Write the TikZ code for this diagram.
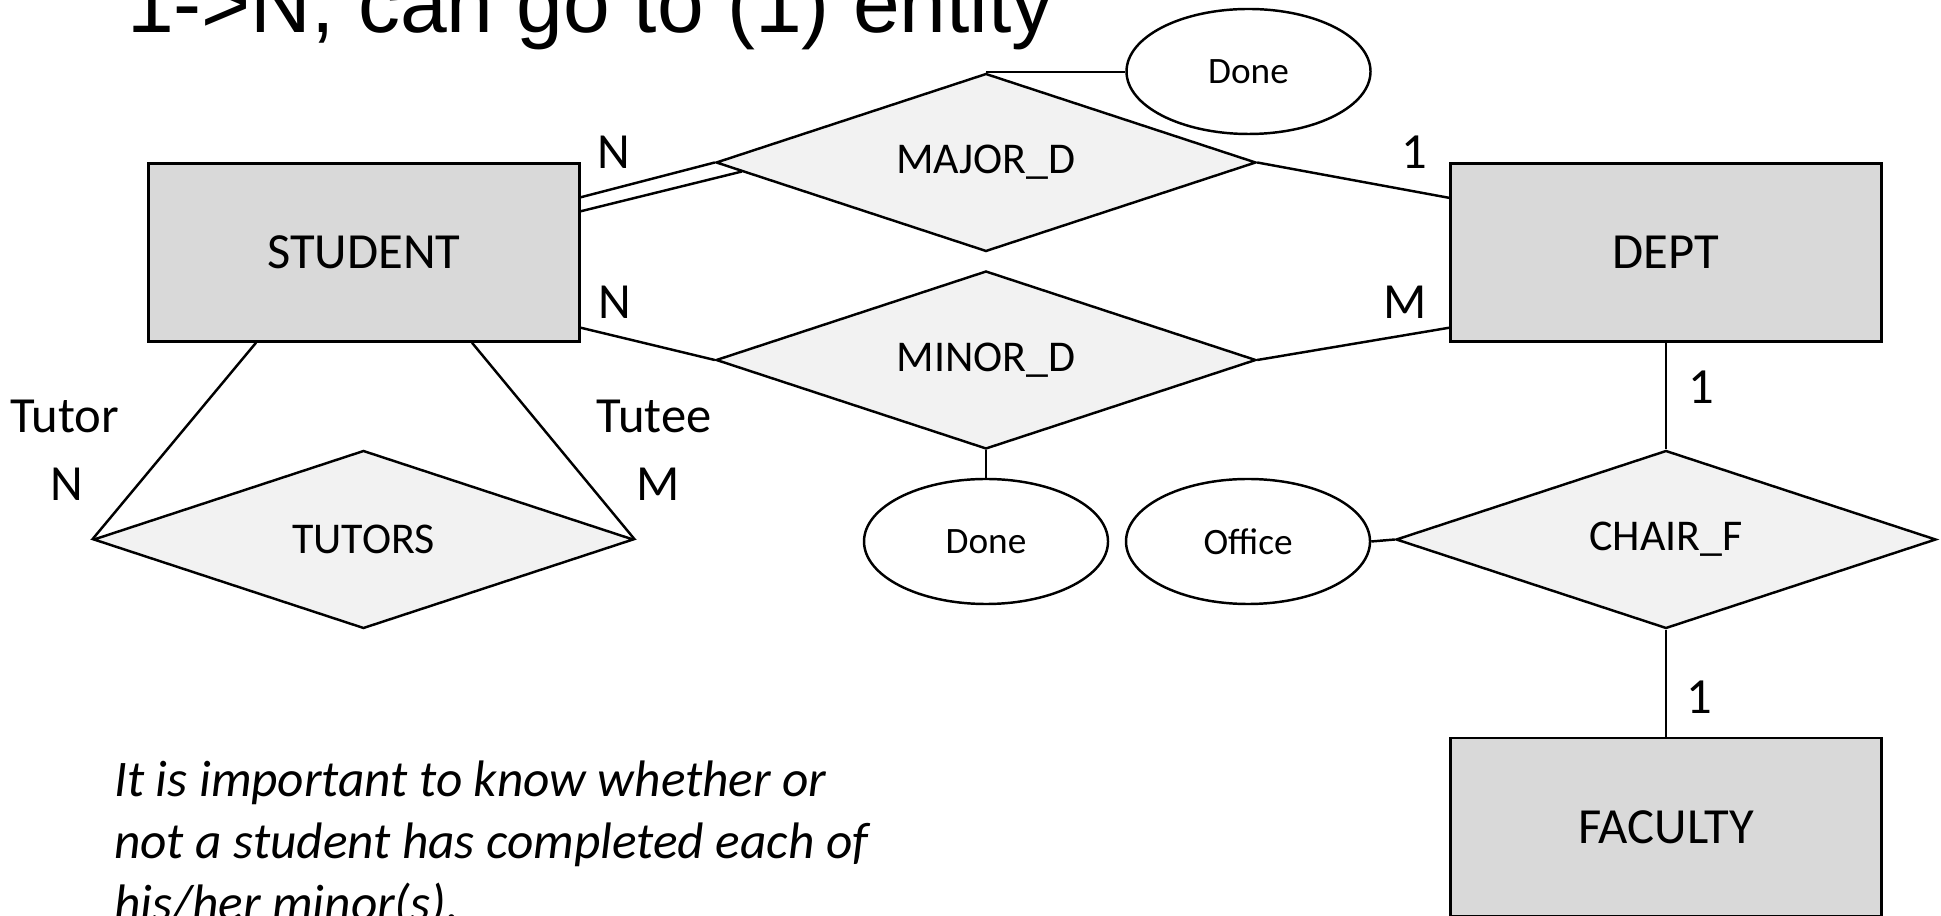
\documentclass[tikz,border=0pt]{standalone}
\usepackage{fontspec}
\setmainfont{Carlito}
\newfontfamily\headfont{Liberation Sans}
\usetikzlibrary{positioning, shapes.geometric, calc}
\definecolor{entgray}{HTML}{D9D9D9}
\definecolor{relgray}{HTML}{F2F2F2}

\begin{document}
\begin{tikzpicture}[
    line width=0.7pt,
    entity/.style={draw, fill=entgray, minimum width=4.31cm, minimum height=1.78cm, font=\fontsize{14.4}{17}\selectfont},
    rel/.style={diamond, aspect=3, draw, fill=relgray, minimum width=5.4cm, minimum height=1.78cm, inner sep=0pt, font=\fontsize{12.5}{15}\selectfont},
    attr/.style={ellipse, draw, fill=white, minimum width=2.44cm, minimum height=1.25cm, font=\fontsize{10.6}{13}\selectfont},
    card/.style={inner sep=0pt, font=\fontsize{14.4}{17}\selectfont}
]
    \useasboundingbox (0,0) rectangle (19.41,-9.16);

    % Define nodes
    \node[anchor=base west, inner sep=0pt, font=\headfont\fontsize{23.9}{28}\selectfont] (title) at (1.26,-0.33) {1->N, can go to (1) entity};

    \node[entity] (S) at (3.64,-2.525) {STUDENT};
    \node[entity] (D) at (16.66,-2.525) {DEPT};
    \node[entity] (F) at (16.66,-8.27) {FACULTY};

    \node[rel] (MAJ) at (9.86,-1.625) {MAJOR\_D};
    \node[rel] (MIN) at (9.86,-3.60) {MINOR\_D};
    \node[rel] (TUT) at (3.635,-5.395) {TUTORS};
    \node[rel] (CH) at (16.66,-5.395) {CHAIR\_F};

    \node[attr] (done1) at (12.485,-0.715) {Done};
    \node[attr] (done2) at (9.86,-5.415) {Done};
    \node[attr] (off) at (12.48,-5.415) {Office};

    % Cardinalities
    \node[card] (c1) at (6.14,-1.52) {N};
    \node[card] (c2) at (14.14,-1.52) {1};
    \node[card] (c3) at (6.15,-3.02) {N};
    \node[card] (c4) at (14.05,-3.02) {M};
    \node[card] (tr) at (0.645,-4.16) {Tutor};
    \node[card] (c5) at (0.67,-4.84) {N};
    \node[card] (te) at (6.54,-4.16) {Tutee};
    \node[card] (c6) at (6.58,-4.84) {M};
    \node[card] (c7) at (17.01,-3.87) {1};
    \node[card] (c8) at (16.99,-6.97) {1};

    \node[anchor=north west, align=left, inner sep=0pt, font=\itshape\fontsize{14.6}{17.64}\selectfont] (note) at (1.13,-7.6)
        {It is important to know whether or\\not a student has completed each of\\his/her minor(s).};

    % Draw lines
    \draw ([yshift=-0.35cm]S.north east) -- (MAJ.west);
    \draw ([yshift=-0.49cm]S.north east) -- ($(MAJ.west)!0.1!(MAJ.south)$);
    \draw (MAJ.east) -- ([yshift=-0.356cm]D.north west);
    \draw (MAJ.north) -- (MAJ.north -| done1.west);
    \draw ([yshift=0.15cm]S.south east) -- (MIN.west);
    \draw (MIN.east) -- ([yshift=0.15cm]D.south west);
    \draw (MIN.south) -- (done2.north);
    \draw ([xshift=-1.08cm]S.south) -- (TUT.west);
    \draw ([xshift=1.08cm]S.south) -- (TUT.east);
    \draw (D.south) -- (CH.north);
    \draw (CH.south) -- (F.north);
    \draw (off.east) -- (CH.west);
\end{tikzpicture}
\end{document}
